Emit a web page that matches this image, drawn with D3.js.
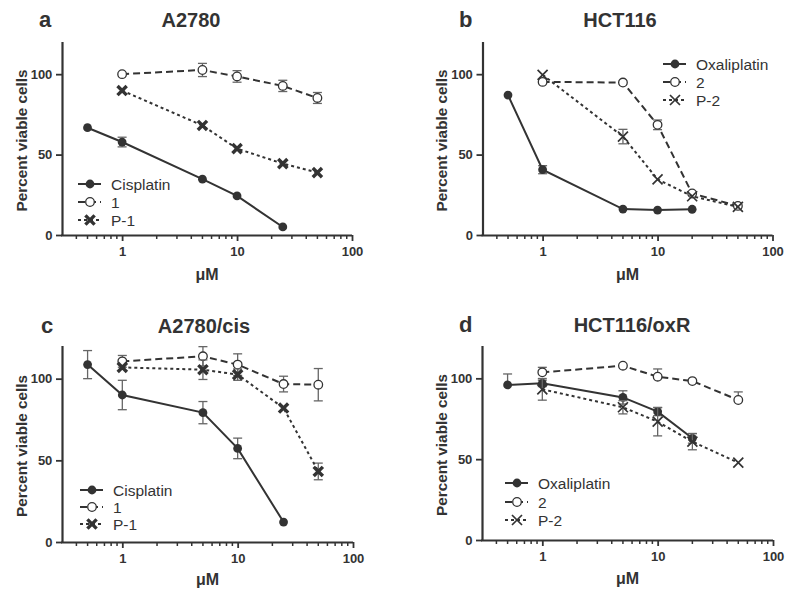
<!DOCTYPE html>
<html><head><meta charset="utf-8">
<script src="https://cdn.jsdelivr.net/npm/d3@7"></script>
<style>body{margin:0;background:#fff} svg text{font-family:"Liberation Sans",Arial,sans-serif;fill:#333}</style>
</head><body><svg id="chart" width="800" height="598"></svg>
<script>
// ---------- data ----------
const xTickValues = [1, 10, 100];
const xMinorTicks = [0.4,0.5,0.6,0.7,0.8,0.9,2,3,4,5,6,7,8,9,20,30,40,50,60,70,80,90];
const yTickValues = [0, 50, 100];
const panelLetters = ["a", "b", "c", "d"];
const panelTitles = ["A2780", "HCT116", "A2780/cis", "HCT116/oxR"];
const legendAC = ["Cisplatin", "1", "P-1"];
const legendBD = ["Oxaliplatin", "2", "P-2"];
const xLabel = "μM";
const yLabel = "Percent viable cells";
// [µM, % viable, error below, error above]
const aCisplatin = [[0.5,66.7,0,0],[1,57.8,3,3],[5,34.7,0,0],[10,24.3,0,0],[25,5,0,0]];
const aCompound1 = [[1,100,0,0],[5,102.6,4.1,4.1],[10,98.6,3.6,3.6],[25,92.7,3.5,3.5],[50,85.2,3.4,3.4]];
const aP1 = [[1,89.8,0,0],[5,68.1,0,0],[10,53.7,0,0],[25,44.4,0,0],[50,38.8,0,0]];
const bOxaliplatin = [[0.5,87,0,0],[1,40.6,2.5,2.5],[5,16.1,0,0],[10,15.5,0,0],[20,16,0,0]];
const bCompound2 = [[1,95.2,0,0],[5,94.8,0,0],[10,68.5,3,3],[20,25.8,0,0],[50,18.1,0,0]];
const bP2 = [[1,99.6,0,0],[5,61.2,4.5,4.5],[10,34.6,0,0],[20,24.1,0,0],[50,17.5,0,0]];
const cCisplatin = [[0.5,108.6,8.6,8.6],[1,90,9,9],[5,79.2,6.8,6.8],[10,57.3,6.3,6.3],[25,12.2,0,0]];
const cCompound1 = [[1,110.6,3.6,3.6],[5,113.7,5.9,5.9],[10,108.6,6.6,6.6],[25,96.7,4.8,4.8],[50,96.3,9.9,9.9]];
const cP1 = [[1,106.9,0,0],[5,105.5,6,6],[10,102.5,3.5,3.5],[25,82,0,0],[50,43.2,5.1,5.1]];
const dOxaliplatin = [[0.5,95.9,0,6.8],[1,96.9,2,2],[5,88.2,4.1,4.1],[10,79.4,2.5,2.5],[20,62.9,3,3]];
const dCompound2 = [[1,103.7,0,3.1],[5,107.8,0,0],[10,101,0,4.8],[20,98.3,0,0],[50,86.6,0,5]];
const dP2 = [[1,93.2,6.7,6.7],[5,82.1,4.1,4.1],[10,73.2,8.8,8.8],[20,60.8,5,5],[50,47.8,0,0]];

const panelSeries = [
  [aCisplatin, aCompound1, aP1],
  [bOxaliplatin, bCompound2, bP2],
  [cCisplatin, cCompound1, cP1],
  [dOxaliplatin, dCompound2, dP2]
];
const panelLegends = [legendAC, legendBD, legendAC, legendBD];

// ---------- layout ----------
const layout = [
  {l:62, r:352, t:42, b:235, titleX:191, titleY:27, letterX:39, xlabY:280, ylabX:22, legX:78, legY:[184,202,220], boldX:true},
  {l:482.5, r:772.5, t:42, b:235, titleX:620, titleY:27, letterX:459, xlabY:280, ylabX:442, legX:663, legY:[64,82,100], boldX:false},
  {l:62, r:353, t:346, b:542, titleX:204, titleY:333, letterX:41, xlabY:585, ylabX:22, legX:80, legY:[490,507,524], boldX:true},
  {l:482, r:773, t:346, b:540, titleX:632, titleY:332, letterX:459, xlabY:584, ylabX:442, legX:505, legY:[483,502,520], boldX:false}
];
const ink = "#333";
const styles = [
  {marker:"filled", dash:null},
  {marker:"open", dash:"7,4"},
  {marker:"x", dash:"3,3"}
];

const svg = d3.select("#chart");

function drawMarker(g, type, cx, cy, boldX){
  if(type==="filled"){
    g.append("circle").attr("cx",cx).attr("cy",cy).attr("r",4.4).attr("fill",ink);
  } else if(type==="open"){
    g.append("circle").attr("cx",cx).attr("cy",cy).attr("r",4.3).attr("fill","#fff").attr("stroke",ink).attr("stroke-width",1.3);
  } else {
    const s = boldX ? 4.6 : 5;
    g.append("path").attr("d",`M${cx-s},${cy-s}L${cx+s},${cy+s}M${cx-s},${cy+s}L${cx+s},${cy-s}`)
      .attr("stroke",ink).attr("stroke-width",boldX?3.4:1.7).attr("fill","none");
  }
}

layout.forEach((L, pi) => {
  const x = d3.scaleLog().domain([0.3, 100]).range([L.l, L.r]);
  const y = d3.scaleLinear().domain([0, 120]).range([L.b, L.t]);
  const g = svg.append("g");

  // axes
  const xAxis = g.append("g").attr("transform",`translate(0,${L.b})`)
    .call(d3.axisBottom(x).tickValues(xTickValues).tickFormat(d3.format("d")).tickSize(6).tickSizeOuter(0));
  xAxis.append("g").selectAll("line").data(xMinorTicks).join("line")
    .attr("x1",d=>x(d)).attr("x2",d=>x(d)).attr("y1",0).attr("y2",4)
    .attr("stroke",ink).attr("stroke-width",1.5);
  const yAxis = g.append("g").attr("transform",`translate(${L.l},0)`)
    .call(d3.axisLeft(y).tickValues(yTickValues).tickSize(6).tickSizeOuter(0));
  [xAxis, yAxis].forEach(a => {
    a.select(".domain").attr("stroke",ink).attr("stroke-width",2.2);
    a.selectAll(".tick line").attr("stroke",ink).attr("stroke-width",1.8);
    a.selectAll(".tick text").attr("font-size",13).attr("font-weight","bold")
      .style("font-family","'Liberation Sans',Arial,sans-serif").attr("fill",ink);
  });
  xAxis.selectAll(".tick text").attr("dy","0.95em");
  yAxis.selectAll(".tick text").attr("dx","-0.05em");
  yAxis.select(".domain").attr("d",`M0.5,${y(120)}V${L.b+1}`);
  xAxis.select(".domain").attr("d",`M${L.l-1},0.5H${L.r}`);

  // labels
  g.append("text").attr("x",L.letterX).attr("y",L.titleY).attr("font-size",22).attr("font-weight","bold").text(panelLetters[pi]);
  g.append("text").attr("x",L.titleX).attr("y",L.titleY).attr("text-anchor","middle").attr("font-size",20).attr("font-weight","bold").text(panelTitles[pi]);
  g.append("text").attr("x",(L.l+L.r)/2).attr("y",L.xlabY).attr("text-anchor","middle").attr("font-size",16).attr("font-weight","bold").text(xLabel);
  g.append("text").attr("transform",`translate(${L.ylabX},${(L.t+L.b)/2+2}) rotate(-90)`).attr("dy","0.35em")
    .attr("text-anchor","middle").attr("font-size",15.3).attr("font-weight","bold").text(yLabel);

  // series
  const line = d3.line().x(d=>x(d[0])).y(d=>y(d[1]));
  panelSeries[pi].forEach((ser, si) => {
    const st = styles[si];
    const sg = g.append("g");
    ser.forEach(d => {
      if(d[2]===0 && d[3]===0) return;
      const cx = x(d[0]), lo = y(d[1]-d[2]), hi = y(d[1]+d[3]);
      sg.append("line").attr("x1",cx).attr("x2",cx).attr("y1",lo).attr("y2",hi).attr("stroke","#666").attr("stroke-width",1.3);
      if(d[3]>0) sg.append("line").attr("x1",cx-4.5).attr("x2",cx+4.5).attr("y1",hi).attr("y2",hi).attr("stroke","#666").attr("stroke-width",1.3);
      if(d[2]>0) sg.append("line").attr("x1",cx-4.5).attr("x2",cx+4.5).attr("y1",lo).attr("y2",lo).attr("stroke","#666").attr("stroke-width",1.3);
    });
    sg.append("path").datum(ser).attr("d",line).attr("fill","none").attr("stroke",ink)
      .attr("stroke-width",2).attr("stroke-dasharray",st.dash);
    ser.forEach(d => drawMarker(sg, st.marker, x(d[0]), y(d[1]), L.boldX));

    // legend
    const ly = L.legY[si];
    g.append("line").attr("x1",L.legX).attr("x2",L.legX+23).attr("y1",ly).attr("y2",ly)
      .attr("stroke",ink).attr("stroke-width",2).attr("stroke-dasharray",st.dash);
    drawMarker(g, st.marker, L.legX+12, ly, L.boldX);
    g.append("text").attr("x",L.legX+33).attr("y",ly).attr("dy","0.36em").attr("font-size",15.5).text(panelLegends[pi][si]);
  });
});
</script></body></html>
